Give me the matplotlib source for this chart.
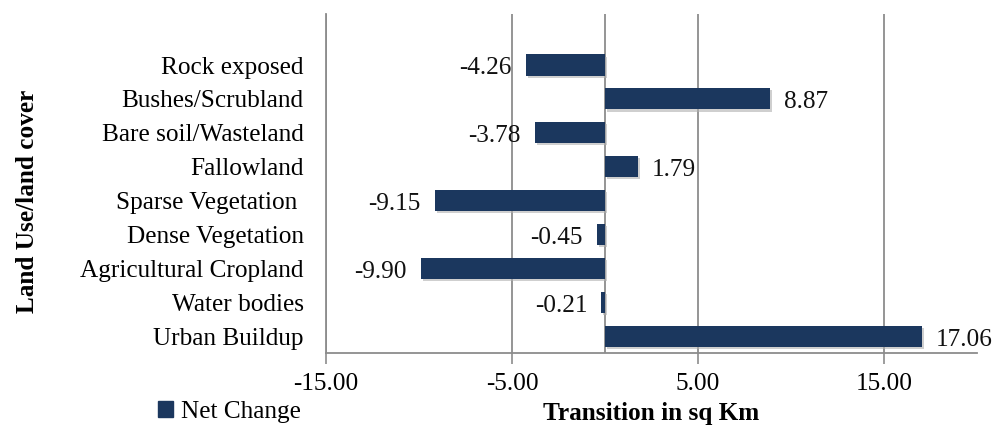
import matplotlib.pyplot as plt
import matplotlib.patheffects as pe
from matplotlib.patches import Patch

# land cover classes, bottom to top as drawn
classes = ['Urban Buildup', 'Water bodies', 'Agricultural Cropland',
           'Dense Vegetation', 'Sparse Vegetation ', 'Fallowland',
           'Bare soil/Wasteland', 'Bushes/Scrubland', 'Rock exposed']
net_change = [17.06, -0.21, -9.90, -0.45, -9.15, 1.79, -3.78, 8.87, -4.26]
x_ticks = [-15, -5, 5, 15]

plt.rcParams['font.family'] = ['Liberation Serif', 'DejaVu Serif']
fs = 18.2
bar_col = '#1b375e'
grid_col = '#8c8c8c'

fig = plt.figure(figsize=(10.03, 4.28), dpi=100)
ax = fig.add_axes([0.325, 0.1745, 0.649, 0.7925])

pos = list(range(len(classes)))
bars = ax.barh(pos, net_change, height=0.62, color=bar_col, zorder=3)
for b in bars:
    b.set_path_effects([pe.SimplePatchShadow(offset=(1.5, -1.5), shadow_rgbFace='#b0b0b0', alpha=0.6), pe.Normal()])

# value labels outside bar ends
for p, v in zip(pos, net_change):
    off = 10 if v >= 0 else -10
    ax.annotate('%.2f' % v, (v, p), xytext=(off, -2.5), textcoords='offset points',
                ha='left' if v >= 0 else 'right', va='center', fontsize=fs, color='#111111')

ax.set_xlim(-15, 20)
ax.set_ylim(-0.5, 9.5)
ax.set_xticks(x_ticks)
ax.set_xticklabels(['%.2f' % t for t in x_ticks], fontsize=fs)
ax.set_yticks(pos)
ax.set_yticklabels(classes, fontsize=fs)
ax.tick_params(axis='y', length=0, pad=16)
ax.tick_params(axis='x', length=8, width=1.2, color=grid_col, pad=6, direction='out')

ax.grid(axis='x', color=grid_col, linewidth=1.3, zorder=0)
ax.axvline(0, color=grid_col, linewidth=1.3, zorder=1)
for s in ['top', 'right']:
    ax.spines[s].set_visible(False)
for s in ['left', 'bottom']:
    ax.spines[s].set_color(grid_col)
    ax.spines[s].set_linewidth(1.3)

ax.set_xlabel('Transition in sq Km', fontsize=fs, fontweight='bold', labelpad=5)
fig.text(0.027, 0.53, 'Land Use/land cover', rotation=90, fontsize=fs,
         fontweight='bold', ha='center', va='center')

fig.legend(handles=[Patch(color=bar_col, label='Net Change')], loc='center left',
           bbox_to_anchor=(0.135, 0.038), frameon=False, fontsize=fs,
           handlelength=0.6, handleheight=0.6, handletextpad=0.3)

fig.savefig('out.png', dpi=100)
